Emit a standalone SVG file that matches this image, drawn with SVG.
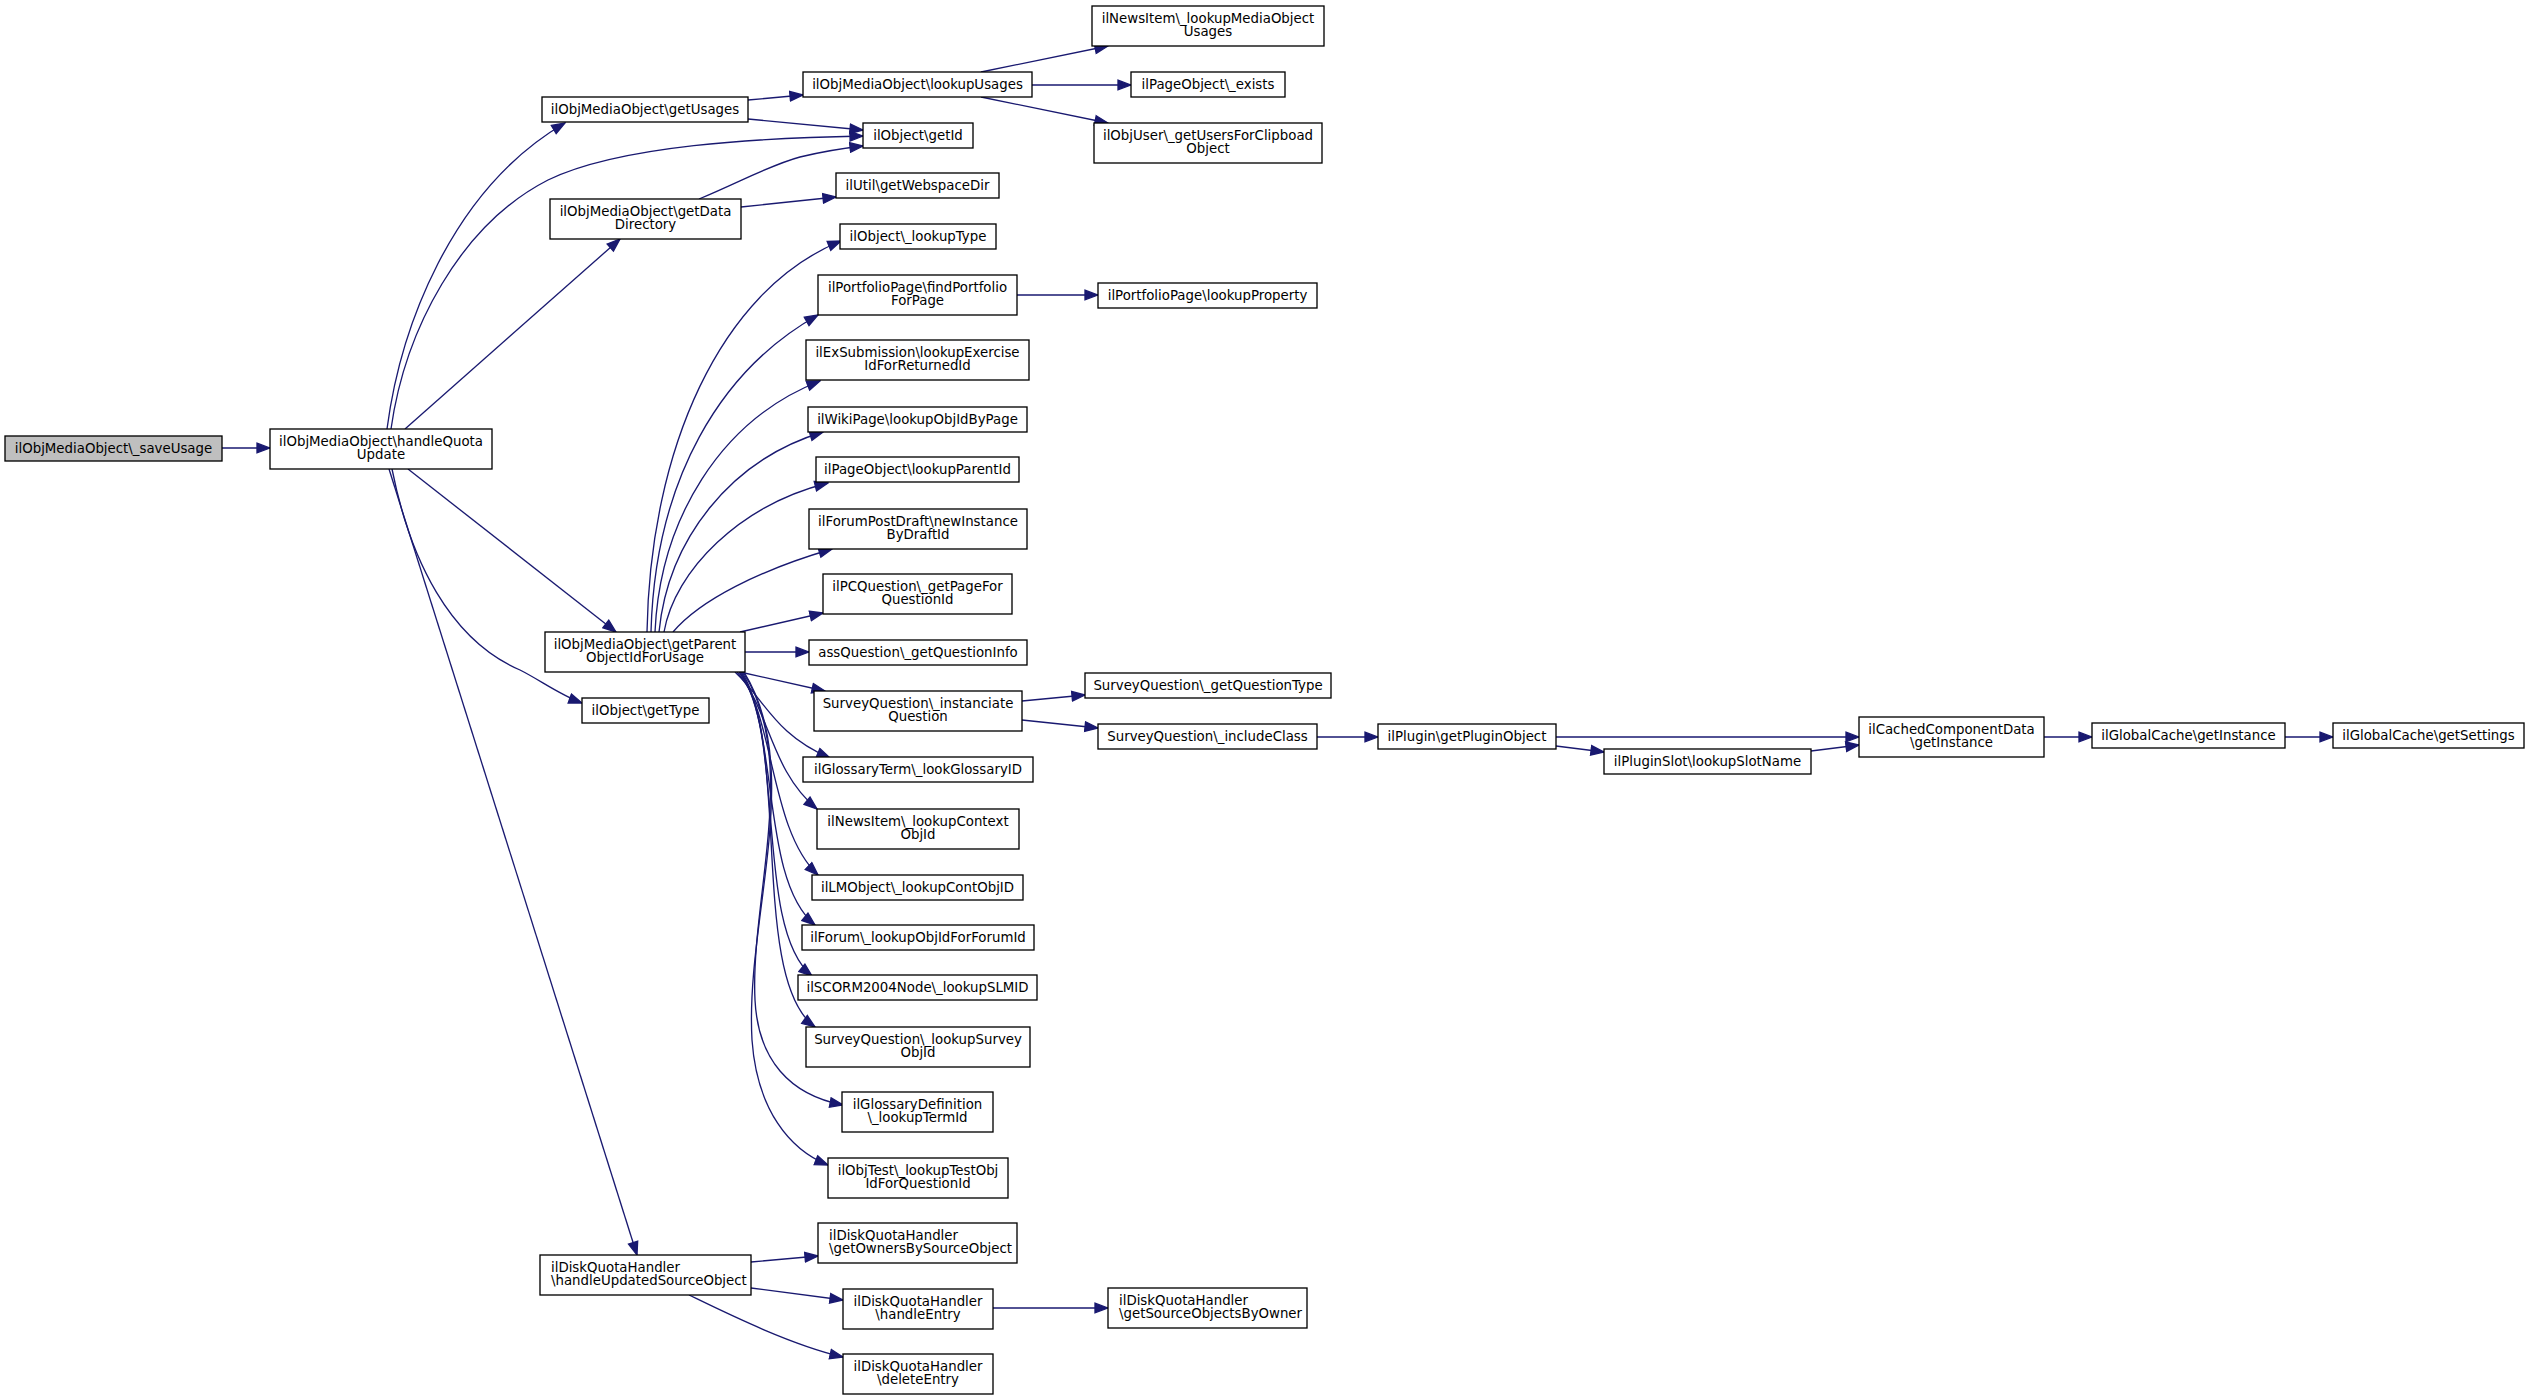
<svg xmlns="http://www.w3.org/2000/svg" width="2527" height="1400" viewBox="0 0 2527 1400">
<style>
.node rect{fill:#ffffff;stroke:#000000;stroke-width:1.33}
.node.root rect{fill:#bfbfbf}
.node text{font-family:"DejaVu Sans","Liberation Sans",sans-serif;font-size:13.33px;text-anchor:middle;fill:#000000}
.node text.l{text-anchor:start}
.edge{fill:none;stroke:#191970;stroke-width:1.33;marker-end:url(#arr)}
</style>
<defs>
<marker id="arr" markerUnits="userSpaceOnUse" markerWidth="15" markerHeight="12" viewBox="0 0 15 12" refX="14" refY="6" orient="auto">
<path d="M1,1.2 L14,6 L1,10.8 z" fill="#191970" stroke="#191970" stroke-width="1.33"/>
</marker>
</defs>
<rect width="2527" height="1400" fill="#ffffff"/>
<g id="connectors">
<path class="edge" d="M222,448 L270,448"/>
<path class="edge" d="M387,429 C400,330 450,190 565,123"/>
<path class="edge" d="M391,429 C405,330 460,225 548,180 C620,145 760,138 863,136"/>
<path class="edge" d="M405,429 L620,239"/>
<path class="edge" d="M408,469 L616,632"/>
<path class="edge" d="M392,469 C410,560 450,640 520,670 C540,680 560,695 582,703"/>
<path class="edge" d="M389,469 L637,1255"/>
<path class="edge" d="M748,100 L803,95"/>
<path class="edge" d="M748,119 L863,130"/>
<path class="edge" d="M699,199 C740,182 770,165 800,157 C825,151 845,148 863,146"/>
<path class="edge" d="M741,207 L836,197"/>
<path class="edge" d="M981,72 L1108,46"/>
<path class="edge" d="M1032,85 L1131,85"/>
<path class="edge" d="M981,97 L1108,123"/>
<path class="edge" d="M647,632 C650,450 720,290 841,241"/>
<path class="edge" d="M651,632 C655,480 720,370 818,315"/>
<path class="edge" d="M655,632 C660,520 720,420 820,381"/>
<path class="edge" d="M659,632 C668,540 730,460 823,432"/>
<path class="edge" d="M664,632 C675,570 740,505 828,483"/>
<path class="edge" d="M673,632 C700,600 760,570 832,549"/>
<path class="edge" d="M740,632 L823,613"/>
<path class="edge" d="M745,652 L809,652"/>
<path class="edge" d="M740,672 L825,691"/>
<path class="edge" d="M735,672 C765,700 775,735 830,758"/>
<path class="edge" d="M737,672 C770,710 770,770 817,809"/>
<path class="edge" d="M739,672 C775,720 770,830 818,875"/>
<path class="edge" d="M740,672 C780,730 760,880 815,925"/>
<path class="edge" d="M741,672 C785,740 755,930 812,976"/>
<path class="edge" d="M742,672 C790,750 750,980 815,1027"/>
<path class="edge" d="M743,672 C800,760 750,900 755,1000 C758,1060 790,1095 843,1105"/>
<path class="edge" d="M744,672 C805,770 745,920 752,1040 C757,1110 790,1150 828,1165"/>
<path class="edge" d="M1017,295 L1098,295"/>
<path class="edge" d="M1022,701 L1085,695"/>
<path class="edge" d="M1022,720 L1098,728"/>
<path class="edge" d="M1317,737 L1378,737"/>
<path class="edge" d="M1556,737 L1859,737"/>
<path class="edge" d="M1556,746 L1604,752"/>
<path class="edge" d="M1811,751 L1859,745"/>
<path class="edge" d="M2044,737 L2092,737"/>
<path class="edge" d="M2285,737 L2333,737"/>
<path class="edge" d="M751,1262 L818,1256"/>
<path class="edge" d="M751,1288 L843,1300"/>
<path class="edge" d="M689,1295 C720,1310 790,1345 843,1357"/>
<path class="edge" d="M993,1308 L1108,1308"/>
</g>
<g id="n1" class="node root"><rect x="5" y="436" width="217" height="25"/><text x="113.5" y="453">ilObjMediaObject\_saveUsage</text></g>
<g id="n2" class="node"><rect x="270" y="429" width="222" height="40"/><text x="381" y="445.5">ilObjMediaObject\handleQuota</text><text x="381" y="459">Update</text></g>
<g id="n3" class="node"><rect x="542" y="97" width="206" height="25"/><text x="645" y="114">ilObjMediaObject\getUsages</text></g>
<g id="n4" class="node"><rect x="803" y="72" width="229" height="25"/><text x="917.5" y="89">ilObjMediaObject\lookupUsages</text></g>
<g id="n5" class="node"><rect x="1092" y="6" width="232" height="40"/><text x="1208" y="22.5">ilNewsItem\_lookupMediaObject</text><text x="1208" y="36">Usages</text></g>
<g id="n6" class="node"><rect x="1131" y="72" width="154" height="25"/><text x="1208" y="89">ilPageObject\_exists</text></g>
<g id="n7" class="node"><rect x="1094" y="123" width="228" height="40"/><text x="1208" y="139.5">ilObjUser\_getUsersForClipboad</text><text x="1208" y="153">Object</text></g>
<g id="n8" class="node"><rect x="863" y="123" width="110" height="25"/><text x="918" y="140">ilObject\getId</text></g>
<g id="n9" class="node"><rect x="550" y="199" width="191" height="40"/><text x="645.5" y="215.5">ilObjMediaObject\getData</text><text x="645.5" y="229">Directory</text></g>
<g id="n10" class="node"><rect x="836" y="173" width="163" height="25"/><text x="917.5" y="190">ilUtil\getWebspaceDir</text></g>
<g id="n11" class="node"><rect x="840" y="224" width="156" height="25"/><text x="918" y="241">ilObject\_lookupType</text></g>
<g id="n12" class="node"><rect x="818" y="275" width="199" height="40"/><text x="917.5" y="291.5">ilPortfolioPage\findPortfolio</text><text x="917.5" y="305">ForPage</text></g>
<g id="n13" class="node"><rect x="1098" y="283" width="219" height="25"/><text x="1207.5" y="300">ilPortfolioPage\lookupProperty</text></g>
<g id="n14" class="node"><rect x="806" y="340" width="223" height="40"/><text x="917.5" y="356.5">ilExSubmission\lookupExercise</text><text x="917.5" y="370">IdForReturnedId</text></g>
<g id="n15" class="node"><rect x="808" y="407" width="219" height="25"/><text x="917.5" y="424">ilWikiPage\lookupObjIdByPage</text></g>
<g id="n16" class="node"><rect x="816" y="457" width="203" height="25"/><text x="917.5" y="474">ilPageObject\lookupParentId</text></g>
<g id="n17" class="node"><rect x="809" y="509" width="218" height="40"/><text x="918" y="525.5">ilForumPostDraft\newInstance</text><text x="918" y="539">ByDraftId</text></g>
<g id="n18" class="node"><rect x="823" y="574" width="189" height="40"/><text x="917.5" y="590.5">ilPCQuestion\_getPageFor</text><text x="917.5" y="604">QuestionId</text></g>
<g id="n19" class="node"><rect x="809" y="640" width="218" height="25"/><text x="918" y="657">assQuestion\_getQuestionInfo</text></g>
<g id="n20" class="node"><rect x="814" y="691" width="208" height="40"/><text x="918" y="707.5">SurveyQuestion\_instanciate</text><text x="918" y="721">Question</text></g>
<g id="n21" class="node"><rect x="1085" y="673" width="246" height="25"/><text x="1208" y="690">SurveyQuestion\_getQuestionType</text></g>
<g id="n22" class="node"><rect x="1098" y="724" width="219" height="25"/><text x="1207.5" y="741">SurveyQuestion\_includeClass</text></g>
<g id="n23" class="node"><rect x="1378" y="724" width="178" height="25"/><text x="1467" y="741">ilPlugin\getPluginObject</text></g>
<g id="n24" class="node"><rect x="1604" y="749" width="207" height="25"/><text x="1707.5" y="766">ilPluginSlot\lookupSlotName</text></g>
<g id="n25" class="node"><rect x="1859" y="717" width="185" height="40"/><text x="1951.5" y="733.5">ilCachedComponentData</text><text x="1951.5" y="747">\getInstance</text></g>
<g id="n26" class="node"><rect x="2092" y="723" width="193" height="25"/><text x="2188.5" y="740">ilGlobalCache\getInstance</text></g>
<g id="n27" class="node"><rect x="2333" y="723" width="191" height="25"/><text x="2428.5" y="740">ilGlobalCache\getSettings</text></g>
<g id="n28" class="node"><rect x="545" y="632" width="200" height="40"/><text x="645" y="648.5">ilObjMediaObject\getParent</text><text x="645" y="662">ObjectIdForUsage</text></g>
<g id="n29" class="node"><rect x="582" y="698" width="127" height="25"/><text x="645.5" y="715">ilObject\getType</text></g>
<g id="n30" class="node"><rect x="803" y="757" width="230" height="25"/><text x="918" y="774">ilGlossaryTerm\_lookGlossaryID</text></g>
<g id="n31" class="node"><rect x="817" y="809" width="202" height="40"/><text x="918" y="825.5">ilNewsItem\_lookupContext</text><text x="918" y="839">ObjId</text></g>
<g id="n32" class="node"><rect x="812" y="875" width="211" height="25"/><text x="917.5" y="892">ilLMObject\_lookupContObjID</text></g>
<g id="n33" class="node"><rect x="802" y="925" width="232" height="25"/><text x="918" y="942">ilForum\_lookupObjIdForForumId</text></g>
<g id="n34" class="node"><rect x="798" y="975" width="239" height="25"/><text x="917.5" y="992">ilSCORM2004Node\_lookupSLMID</text></g>
<g id="n35" class="node"><rect x="806" y="1027" width="224" height="40"/><text x="918" y="1043.5">SurveyQuestion\_lookupSurvey</text><text x="918" y="1057">ObjId</text></g>
<g id="n36" class="node"><rect x="842" y="1092" width="151" height="40"/><text x="917.5" y="1108.5">ilGlossaryDefinition</text><text x="917.5" y="1122">\_lookupTermId</text></g>
<g id="n37" class="node"><rect x="828" y="1158" width="180" height="40"/><text x="918" y="1174.5">ilObjTest\_lookupTestObj</text><text x="918" y="1188">IdForQuestionId</text></g>
<g id="n38" class="node"><rect x="540" y="1255" width="211" height="40"/><text class="l" x="551" y="1271.5">ilDiskQuotaHandler</text><text class="l" x="551" y="1285">\handleUpdatedSourceObject</text></g>
<g id="n39" class="node"><rect x="818" y="1223" width="199" height="40"/><text class="l" x="829" y="1239.5">ilDiskQuotaHandler</text><text class="l" x="829" y="1253">\getOwnersBySourceObject</text></g>
<g id="n40" class="node"><rect x="843" y="1289" width="150" height="40"/><text x="918" y="1305.5">ilDiskQuotaHandler</text><text x="918" y="1319">\handleEntry</text></g>
<g id="n41" class="node"><rect x="1108" y="1288" width="199" height="40"/><text class="l" x="1119" y="1304.5">ilDiskQuotaHandler</text><text class="l" x="1119" y="1318">\getSourceObjectsByOwner</text></g>
<g id="n42" class="node"><rect x="843" y="1354" width="150" height="40"/><text x="918" y="1370.5">ilDiskQuotaHandler</text><text x="918" y="1384">\deleteEntry</text></g>
</svg>
